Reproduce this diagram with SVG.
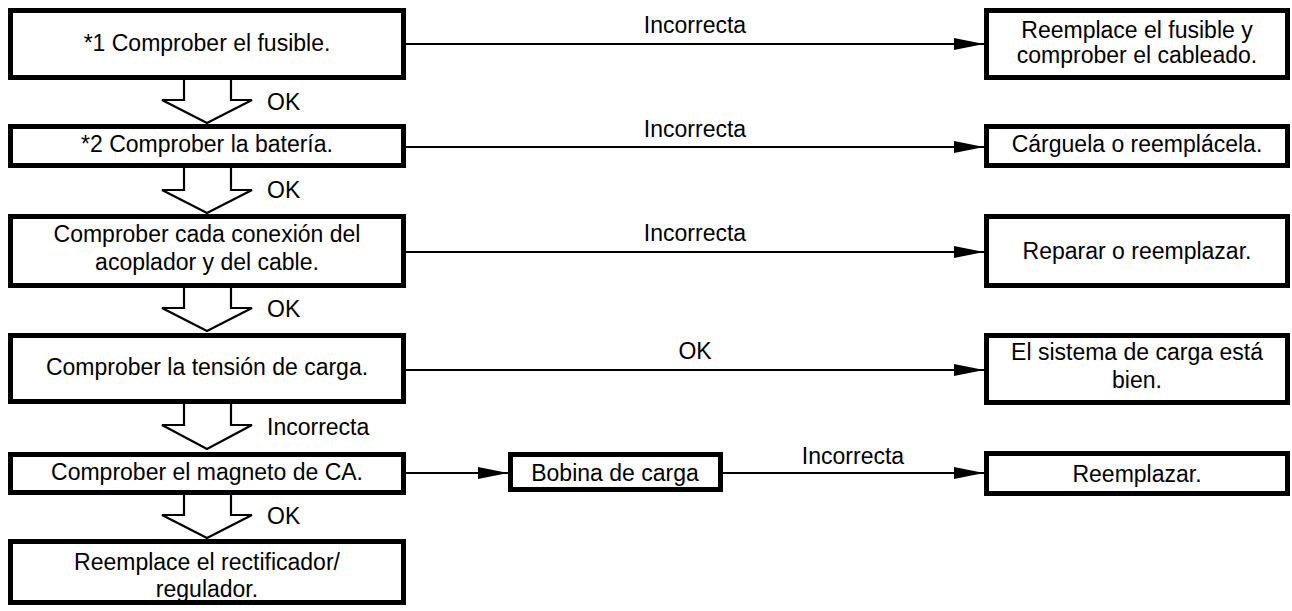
<svg xmlns="http://www.w3.org/2000/svg" width="1292" height="611" viewBox="0 0 1292 611">
<style>
  .box { fill: #fff; stroke: #000; stroke-width: 5; }
  .t { font-family: "Liberation Sans", Arial, sans-serif; font-size: 23px; fill: #000; text-anchor: middle; }
  .lbl { font-family: "Liberation Sans", Arial, sans-serif; font-size: 23px; fill: #000; }
  .line { stroke: #000; stroke-width: 2.2; fill: none; }
  .hollow { stroke: #000; stroke-width: 2.2; fill: #fff; stroke-linejoin: miter; }
</style>
<defs>
  <marker id="ah" markerUnits="userSpaceOnUse" markerWidth="30" markerHeight="14" refX="30" refY="7" orient="auto">
    <path d="M0,1 L30,7 L0,13 Z" fill="#000"/>
  </marker>
</defs>
<rect width="1292" height="611" fill="#fff"/>

<g id="connectors">
  <line class="line" x1="406" y1="44" x2="984" y2="44" marker-end="url(#ah)"/>
  <line class="line" x1="406" y1="147" x2="984" y2="147" marker-end="url(#ah)"/>
  <line class="line" x1="406" y1="252" x2="984" y2="252" marker-end="url(#ah)"/>
  <line class="line" x1="406" y1="370" x2="984" y2="370" marker-end="url(#ah)"/>
  <line class="line" x1="406" y1="473" x2="508" y2="473" marker-end="url(#ah)"/>
  <line class="line" x1="723" y1="473" x2="984" y2="473" marker-end="url(#ah)"/>
  <text class="t" x="695" y="33">Incorrecta</text>
  <text class="t" x="695" y="137">Incorrecta</text>
  <text class="t" x="695" y="241">Incorrecta</text>
  <text class="t" x="695" y="359">OK</text>
  <text class="t" x="853" y="464">Incorrecta</text>

  <path class="hollow" d="M184,80 V100 H162 L207,123 L252,100 H231 V80"/>
  <path class="hollow" d="M184,168 V190 H162 L207,213 L252,190 H231 V168"/>
  <path class="hollow" d="M184,288 V308 H162 L207,331 L252,308 H231 V288"/>
  <path class="hollow" d="M184,404 V425 H162 L207,449 L252,425 H231 V404"/>
  <path class="hollow" d="M184,495 V515 H162 L207,538 L252,515 H231 V495"/>
  <text class="lbl" x="267" y="110">OK</text>
  <text class="lbl" x="267" y="198">OK</text>
  <text class="lbl" x="267" y="317">OK</text>
  <text class="lbl" x="267" y="435">Incorrecta</text>
  <text class="lbl" x="267" y="524">OK</text>
</g>

<g id="n1">
  <rect class="box" x="10.5" y="10.5" width="393" height="67"/>
  <text class="t" x="207" y="51">*1 Comprober el fusible.</text>
</g>
<g id="n2">
  <rect class="box" x="10.5" y="126.5" width="393" height="39"/>
  <text class="t" x="207" y="152">*2 Comprober la batería.</text>
</g>
<g id="n3">
  <rect class="box" x="10.5" y="216.5" width="393" height="69"/>
  <text class="t" x="207" y="242">Comprober cada conexión del</text>
  <text class="t" x="207" y="270">acoplador y del cable.</text>
</g>
<g id="n4">
  <rect class="box" x="10.5" y="335.5" width="393" height="66"/>
  <text class="t" x="207" y="375">Comprober la tensión de carga.</text>
</g>
<g id="n5">
  <rect class="box" x="10.5" y="454.5" width="393" height="38"/>
  <text class="t" x="207" y="480">Comprober el magneto de CA.</text>
</g>
<g id="n6">
  <rect class="box" x="10.5" y="541.5" width="393" height="61"/>
  <text class="t" x="207" y="570">Reemplace el rectificador/</text>
  <text class="t" x="207" y="597">regulador.</text>
</g>
<g id="r1">
  <rect class="box" x="986.5" y="10.5" width="301" height="67"/>
  <text class="t" x="1137" y="38">Reemplace el fusible y</text>
  <text class="t" x="1137" y="63">comprober el cableado.</text>
</g>
<g id="r2">
  <rect class="box" x="986.5" y="126.5" width="301" height="39"/>
  <text class="t" x="1137" y="152">Cárguela o reemplácela.</text>
</g>
<g id="r3">
  <rect class="box" x="986.5" y="216.5" width="301" height="69"/>
  <text class="t" x="1137" y="259">Reparar o reemplazar.</text>
</g>
<g id="r4">
  <rect class="box" x="986.5" y="335.5" width="301" height="67"/>
  <text class="t" x="1137" y="360">El sistema de carga está</text>
  <text class="t" x="1137" y="388">bien.</text>
</g>
<g id="r5">
  <rect class="box" x="986.5" y="453.5" width="301" height="40"/>
  <text class="t" x="1137" y="482">Reemplazar.</text>
</g>
<g id="bobina">
  <rect class="box" x="510.5" y="454.5" width="210" height="35"/>
  <text class="t" x="615" y="481">Bobina de carga</text>
</g>
</svg>
